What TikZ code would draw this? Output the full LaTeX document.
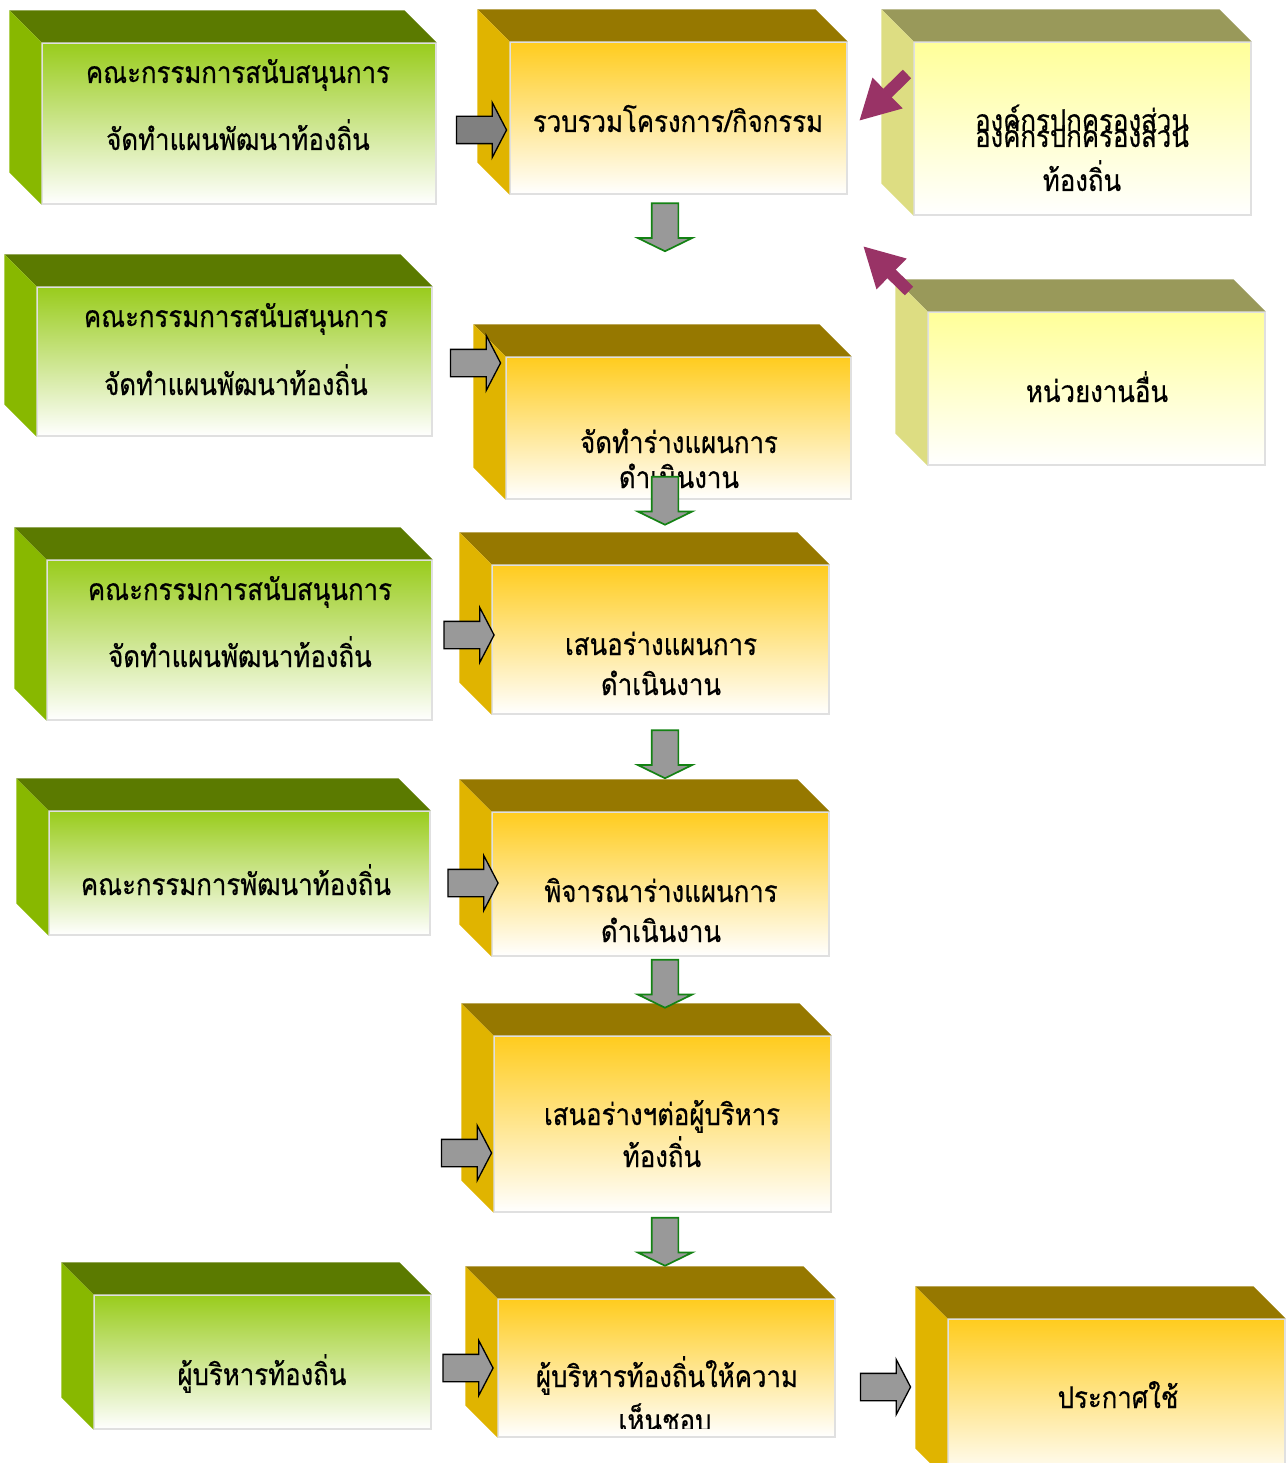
\documentclass[tikz,border=0pt]{standalone}
\usepackage{fontspec}
\usepackage{xcolor}
\usepackage{tikz}
\usetikzlibrary{shapes.arrows,arrows.meta}
\newfontfamily\thaifont[Script=Thai,FakeStretch=0.86,FakeBold=0.5]{Loma}
\definecolor{gtop}{RGB}{91,122,0}
\definecolor{gside}{RGB}{136,184,0}
\definecolor{gfront}{RGB}{153,204,28}
\definecolor{ytop}{RGB}{150,120,0}
\definecolor{yside}{RGB}{224,180,0}
\definecolor{yfront}{RGB}{255,204,30}
\definecolor{ltop}{RGB}{153,153,90}
\definecolor{lside}{RGB}{221,221,130}
\definecolor{lfront}{RGB}{255,255,153}
\definecolor{dgreen}{RGB}{20,130,20}
\definecolor{mag}{RGB}{153,51,102}

\begin{document}
\begin{tikzpicture}[x=1pt,y=-1pt,
  face/.style={draw=black!12,line width=1.2pt,inner sep=0pt},
  gface/.style={face,top color=gfront,bottom color=white},
  yface/.style={face,top color=yfront,bottom color=white},
  lface/.style={face,top color=lfront,bottom color=white},
  txt/.style={anchor=base,inner sep=0pt,font=\thaifont\fontsize{30}{36}\selectfont},
  rarr/.style={single arrow,draw=black,line width=1.3pt,fill=black!40,
    minimum height=50pt,minimum width=54pt,inner sep=0pt,inner ysep=13pt,
    single arrow head extend=14pt,single arrow tip angle=125},
  darr/.style={rarr,rotate=-90,draw=dgreen,line width=1.7pt,minimum height=48pt,
    inner ysep=12.5pt,single arrow tip angle=128},
  marr/.style={draw=mag,line width=12pt,-{Triangle[length=40pt,width=40pt]}}]
  \clip (0,0) rectangle (1286,1463);

  \node[gface,minimum width=394pt,minimum height=161pt] (g1) at (239,123.5) {};
  \node[gface,minimum width=395pt,minimum height=149pt] (g2) at (234.5,361.5) {};
  \node[gface,minimum width=385pt,minimum height=160pt] (g3) at (239.5,640) {};
  \node[gface,minimum width=381pt,minimum height=124pt] (g4) at (239.5,873) {};
  \node[gface,minimum width=337pt,minimum height=134pt] (g5) at (262.5,1362) {};
  \node[yface,minimum width=337pt,minimum height=152pt] (y1) at (678.5,118) {};
  \node[yface,minimum width=345pt,minimum height=142pt] (y2) at (678.5,428) {};
  \node[yface,minimum width=337pt,minimum height=149pt] (y3) at (660.5,639.5) {};
  \node[yface,minimum width=337pt,minimum height=144pt] (y4) at (660.5,884) {};
  \node[yface,minimum width=337pt,minimum height=176pt] (y5) at (662.5,1124) {};
  \node[yface,minimum width=337pt,minimum height=138pt] (y6) at (666.5,1368) {};
  \node[yface,minimum width=337pt,minimum height=161pt] (y7) at (1116.5,1399.5) {};
  \node[lface,minimum width=337pt,minimum height=173pt] (l1) at (1082.5,128.5) {};
  \node[lface,minimum width=337pt,minimum height=153pt] (l2) at (1096.5,388.5) {};

  \foreach \n/\t/\s in {g1/gtop/gside,g2/gtop/gside,g3/gtop/gside,g4/gtop/gside,
    g5/gtop/gside,y1/ytop/yside,y2/ytop/yside,y3/ytop/yside,y4/ytop/yside,
    y5/ytop/yside,y6/ytop/yside,y7/ytop/yside,l1/ltop/lside,l2/ltop/lside}{
    \fill[\t] (\n.north west) -- ++(-32,-32) -- ([shift={(-32,-32)}]\n.north east)
      -- (\n.north east) -- cycle;
    \fill[\s] (\n.north west) -- ++(-32,-32) -- ([shift={(-32,-32)}]\n.south west)
      -- (\n.south west) -- cycle;
  }

  \node[txt] (g1a) at (238,83) {คณะกรรมการสนับสนุนการ};
  \node[txt] (g1b) at (238,150) {จัดทำแผนพัฒนาท้องถิ่น};
  \node[txt] (g2a) at (236,327) {คณะกรรมการสนับสนุนการ};
  \node[txt] (g2b) at (236,395) {จัดทำแผนพัฒนาท้องถิ่น};
  \node[txt] (g3a) at (240,600) {คณะกรรมการสนับสนุนการ};
  \node[txt] (g3b) at (240,667) {จัดทำแผนพัฒนาท้องถิ่น};
  \node[txt] (g4a) at (236,895) {คณะกรรมการพัฒนาท้องถิ่น};
  \node[txt] (g5a) at (262,1385) {ผู้บริหารท้องถิ่น};
  \node[txt] (y1a) at (678,132) {รวบรวมโครงการ/กิจกรรม};
  \node[txt] (l1a) at (1082,131) {องค์กรปกครองส่วน};
  \node[txt] (l1b) at (1082,147) {องค์กรปกครองส่วน};
  \node[txt] (l1c) at (1082,191) {ท้องถิ่น};
  \node[txt] (l2a) at (1097,402) {หน่วยงานอื่น};
  \node[txt] (y2a) at (679,453) {จัดทำร่างแผนการ};
  \node[txt] (y2b) at (679,488) {ดำเนินงาน};
  \node[txt] (y3a) at (661,655) {เสนอร่างแผนการ};
  \node[txt] (y3b) at (661,695) {ดำเนินงาน};
  \node[txt] (y4a) at (661,902) {พิจารณาร่างแผนการ};
  \node[txt] (y4b) at (661,942) {ดำเนินงาน};
  \node[txt] (y5a) at (662,1125) {เสนอร่างฯต่อผู้บริหาร};
  \node[txt] (y5b) at (662,1167) {ท้องถิ่น};
  \node[txt] (y6a) at (667,1387) {ผู้บริหารท้องถิ่นให้ความ};
  \begin{scope}
    \clip (y6.north west) rectangle ([yshift=9pt]y6.south east);
    \node[txt] (y6b) at (665,1431) {เห็นชอบ};
  \end{scope}
  \node[txt] (y7a) at (1118,1408) {ประกาศใช้};

  \node[rarr,fill=black!50] (a1) at (478,130) {};
  \node[rarr] (a2) at (472,363) {};
  \node[rarr] (a3) at (465.5,635) {};
  \node[rarr] (a4) at (469.5,883) {};
  \node[rarr] (a5) at (463,1153) {};
  \node[rarr] (a6) at (464.5,1368) {};
  \node[rarr] (a7) at (882,1387) {};
  \node[darr] (d1) at (665,224) {};
  \node[darr] (d2) at (665,497.5) {};
  \node[darr] (d3) at (665,751) {};
  \node[darr] (d4) at (665,980.5) {};
  \node[darr] (d5) at (665,1238.5) {};

  \coordinate (m1s) at (907,74);
  \coordinate (m1e) at (859,121);
  \coordinate (m2s) at (909,291);
  \coordinate (m2e) at (863,246);
  \draw[marr] (m1s) -- (m1e);
  \draw[marr] (m2s) -- (m2e);
\end{tikzpicture}
\end{document}
